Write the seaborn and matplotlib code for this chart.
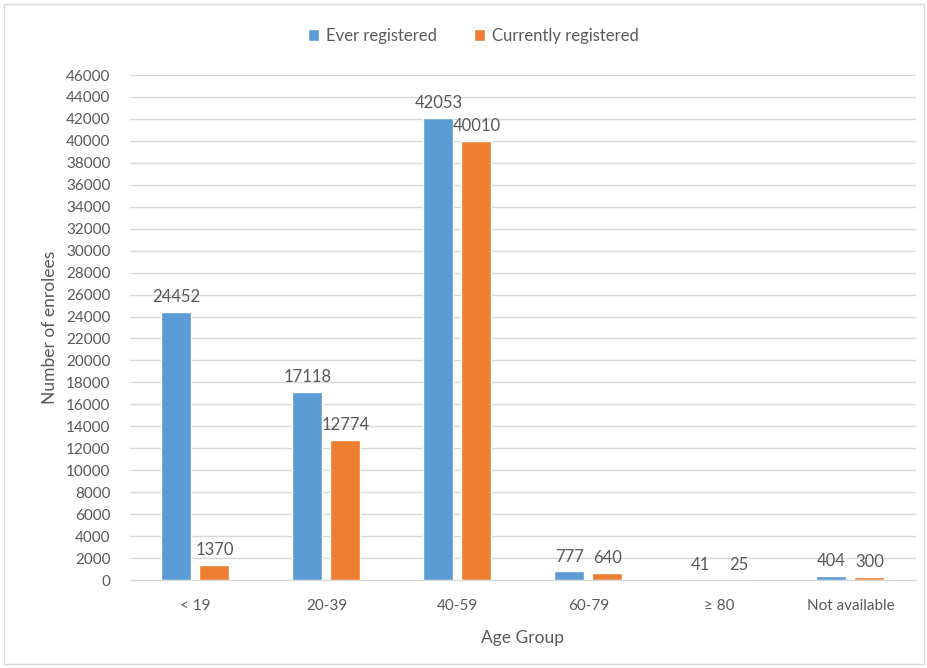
import pandas as pd
import seaborn as sns
import matplotlib.pyplot as plt
from matplotlib.patches import Rectangle

age_groups = ['< 19', '20-39', '40-59', '60-79', '≥ 80', 'Not available']
ever_registered = [24452, 17118, 42053, 777, 41, 404]
currently_registered = [1370, 12774, 40010, 640, 25, 300]
series_names = ['Ever registered', 'Currently registered']
y_ticks = list(range(0, 46001, 2000))

df = pd.DataFrame({
    'age': age_groups * 2,
    'count': ever_registered + currently_registered,
    'series': [series_names[0]] * len(age_groups) + [series_names[1]] * len(age_groups),
})

sns.set_style('white')
plt.rcParams['font.family'] = ['Lato', 'DejaVu Sans']
text_col = '#595959'

fig = plt.figure(figsize=(9.28, 6.68), dpi=100)
ax = fig.add_axes([0.140, 0.1317, 0.847, 0.756])

sns.barplot(data=df, x='age', y='count', hue='series', order=age_groups,
            hue_order=series_names, palette=['#5B9BD5', '#ED7D31'],
            saturation=1, width=0.58, gap=0.21, ax=ax, legend=True)

for cont in ax.containers:
    ax.bar_label(cont, fmt='%d', padding=5, fontsize=12, color=text_col)

ax.set_ylim(0, 46000)
ax.set_xlim(-0.5, 5.5)
ax.set_yticks(y_ticks)
ax.set_yticklabels([str(v) for v in y_ticks])
ax.yaxis.grid(True, color='#D9D9D9', linewidth=1)
ax.set_axisbelow(True)
for s in ['top', 'right', 'left']:
    ax.spines[s].set_visible(False)
ax.spines['bottom'].set_color('#D9D9D9')
ax.tick_params(axis='both', length=0, labelsize=11, colors=text_col)
ax.tick_params(axis='x', pad=14)
ax.tick_params(axis='y', pad=14)

ax.set_xlabel('Age Group', fontsize=12.5, color=text_col, labelpad=12)
ax.set_ylabel('Number of enrolees', fontsize=12.5, color=text_col, labelpad=6)

ax.legend_.remove()
handles, labels = ax.get_legend_handles_labels()
fig.legend(handles, labels, loc='center', bbox_to_anchor=(0.51, 0.946), ncol=2,
           frameon=False, fontsize=12, labelcolor=text_col, handlelength=0.7,
           handleheight=0.7, handletextpad=0.4, columnspacing=2.2)

fig.patches.append(Rectangle((4 / 928, 4 / 668), 920 / 928, 660 / 668,
                             transform=fig.transFigure, fill=False,
                             edgecolor='#D9D9D9', linewidth=1))

fig.savefig('out.png', dpi=100)
